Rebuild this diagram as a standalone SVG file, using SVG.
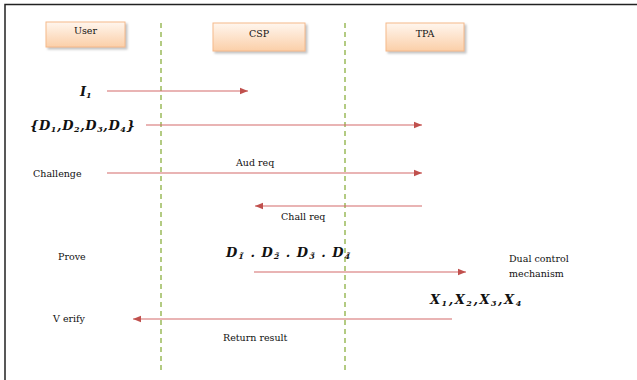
<svg xmlns="http://www.w3.org/2000/svg" width="637" height="380" viewBox="0 0 637 380">
<defs>
<linearGradient id="g" x1="0" y1="0" x2="0" y2="1">
<stop offset="0" stop-color="#fff6ee"/>
<stop offset="1" stop-color="#fbcfa8"/>
</linearGradient>
<marker id="ah" viewBox="0 0 10 10" refX="10" refY="5" markerWidth="8" markerHeight="8" markerUnits="userSpaceOnUse" orient="auto">
<path d="M0,1 L10,5 L0,9 z" fill="#c0504d"/>
</marker>
<filter id="sh" x="-10%" y="-10%" width="130%" height="150%">
<feDropShadow dx="2" dy="2" stdDeviation="1" flood-color="#999" flood-opacity="0.6"/>
</filter>
</defs>
<style>
.box{fill:url(#g);stroke:#f5b98a;stroke-width:1;filter:url(#sh)}
.t{font-family:"DejaVu Serif",serif;font-size:9.5px;fill:#111}
.m{font-family:"DejaVu Serif",serif;font-size:13px;font-weight:bold;font-style:italic;fill:#111}
.s{font-size:8px}
.life{stroke:#9bbb59;stroke-width:1.5;stroke-dasharray:5,4;fill:none}
.msg{stroke:#d46a6a;stroke-width:1.2;fill:none}
</style>
<rect width="637" height="380" fill="#fff"/>
<path d="M5,380 V4.5 H637" stroke="#222" stroke-width="1.5" fill="none"/>
<g id="user"><rect class="box" x="46" y="22" width="79" height="25"/><text class="t" x="85.5" y="34" text-anchor="middle">User</text></g>
<g id="csp"><rect class="box" x="213" y="23" width="92" height="28"/><text class="t" x="259" y="37" text-anchor="middle">CSP</text></g>
<g id="tpa"><rect class="box" x="386" y="23" width="78" height="28"/><text class="t" x="425" y="37" text-anchor="middle">TPA</text></g>
<g id="lifelines">
<line class="life" x1="161" y1="23" x2="161" y2="372"/>
<line class="life" x1="345" y1="23" x2="345" y2="372"/>
</g>
<g id="connectors">
<line class="msg" x1="107" y1="91" x2="248" y2="91" marker-end="url(#ah)"/>
<line class="msg" x1="146" y1="125" x2="422" y2="125" marker-end="url(#ah)"/>
<line class="msg" x1="107" y1="173" x2="422" y2="173" marker-end="url(#ah)"/>
<line class="msg" x1="422" y1="206" x2="255" y2="206" marker-end="url(#ah)"/>
<line class="msg" x1="254" y1="272" x2="466" y2="272" marker-end="url(#ah)"/>
<line class="msg" x1="452" y1="319" x2="133" y2="319" marker-end="url(#ah)"/>
</g>
<g id="labels">
<text class="m" x="80" y="96">I<tspan class="s" dy="2">1</tspan></text>
<text class="m" x="30" y="130" letter-spacing="0.6">{D<tspan class="s" dy="2">1</tspan><tspan dy="-2">,D</tspan><tspan class="s" dy="2">2</tspan><tspan dy="-2">,D</tspan><tspan class="s" dy="2">3</tspan><tspan dy="-2">,D</tspan><tspan class="s" dy="2">4</tspan><tspan dy="-2">}</tspan></text>
<text class="t" x="33" y="177">Challenge</text>
<text class="t" x="236" y="166">Aud req</text>
<text class="t" x="281" y="220">Chall req</text>
<text class="t" x="58" y="260">Prove</text>
<text class="m" x="226" y="257" letter-spacing="1">D<tspan class="s" dy="2">1̃</tspan><tspan dy="-2"> . D</tspan><tspan class="s" dy="2">2̃</tspan><tspan dy="-2"> . D</tspan><tspan class="s" dy="2">3̃</tspan><tspan dy="-2"> . D</tspan><tspan class="s" dy="2">4̃</tspan></text>
<text class="t" x="509" y="262">Dual control</text>
<text class="t" x="509" y="277">mechanism</text>
<text class="m" x="430" y="304" letter-spacing="1.5">X<tspan class="s" dy="2">1</tspan><tspan dy="-2">,X</tspan><tspan class="s" dy="2">2</tspan><tspan dy="-2">,X</tspan><tspan class="s" dy="2">3</tspan><tspan dy="-2">,X</tspan><tspan class="s" dy="2">4</tspan></text>
<text class="t" x="53" y="322">V erify</text>
<text class="t" x="223" y="341">Return result</text>
</g>
</svg>
